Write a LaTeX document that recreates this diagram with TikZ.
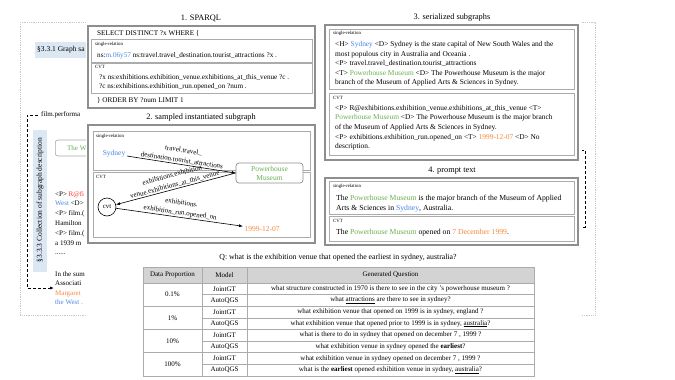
\documentclass[tikz,border=0pt]{standalone}
\usepackage{fontspec}
\setmainfont{Liberation Serif}
\usepackage{tikz}
\usetikzlibrary{positioning,arrows.meta}
\definecolor{entblue}{HTML}{4A86E8}
\definecolor{entgreen}{HTML}{6AAF4F}
\definecolor{entorange}{HTML}{F5883C}
\definecolor{entred}{HTML}{FF3434}
\definecolor{bandblue}{HTML}{DCE7F4}
\definecolor{boxgray}{HTML}{8E8E8E}
\definecolor{linegray}{HTML}{ABABAB}
\definecolor{headgray}{HTML}{D3D3D3}
\definecolor{dotgray}{HTML}{C8C8C8}
\newcommand{\setfs}[2]{\fontsize{#1}{#2}\selectfont}

\begin{document}
\begin{tikzpicture}[x=1pt, y=-1pt,
    outerbox/.style={draw=boxgray, line width=1.1pt},
    innerbox/.style={draw=linegray, line width=0.7pt},
    title/.style={inner sep=0pt, font=\setfs{8.3}{10}},
    tag/.style={anchor=west, inner sep=0pt, font=\setfs{4.8}{5}},
    txt/.style={anchor=north west, inner sep=0pt, align=left, font=\setfs{7.4}{9.6}},
    ptxt/.style={anchor=north west, inner sep=0pt, align=left, font=\setfs{7.7}{10}},
    qtxt/.style={anchor=west, inner sep=0pt, font=\setfs{7.2}{8}},
    bgtxt/.style={anchor=west, inner sep=0pt, align=left, font=\setfs{7}{9.8}},
    ent/.style={inner sep=1.5pt, align=center, font=\setfs{7.5}{9}},
    lbl/.style={inner sep=0.8pt, align=center, font=\setfs{7}{10}},
    arr/.style={-{Latex[length=4pt,width=3pt]}, line width=0.6pt},
    rarr/.style={{Latex[length=4pt,width=3pt]}-, line width=0.6pt},
    dasharr/.style={-{Latex[length=4pt,width=3pt]}, densely dashed, line width=0.7pt},
    cell/.style={inner sep=0pt, font=\setfs{7}{8}},
    tabline/.style={draw=linegray, line width=0.6pt}
]
    \useasboundingbox (0,0) rectangle (675,380);

    % background figure
    \draw[dotgray, densely dotted, line width=0.8pt] (20,22) rectangle (595,315);
    \fill[bandblue] (35,42) rectangle (100,58);
    \node[bgtxt, font=\setfs{7.5}{9}] (graphsa) at (37,50) {§3.3.1 Graph sa};
    \node[bgtxt] (filmperf) at (41,115) {film.performa};
    \coordinate (turn) at (27,115);
    \fill[bandblue] (33,130) rectangle (47,272);
    \node[rotate=90, inner sep=0pt, font=\setfs{7.5}{9}] (collect) at (40,200) {§3.3.3 Collection of subgraph description};
    \node[draw=linegray, line width=0.7pt, rounded corners=2.5pt, minimum width=75pt, minimum height=16pt, anchor=west] (thew) at (55,148) {};
    \node[bgtxt, text=entgreen] (thewtxt) at (67,148) {The W};
    \node[bgtxt, anchor=north west] (descr) at (55,191) {<P> \textcolor{entred}{R@fi}\\\textcolor{entblue}{West} <D>\\<P> film.(\\Hamilton\\<P> film.(\\a 1939 m\\......};
    \node[bgtxt, font=\setfs{7}{9.4}] (insum) at (55,288) {In the sum\\Associati\\\textcolor{entorange}{Margaret}\\\textcolor{entblue}{the West .}};
    \draw[dasharr, shorten <=3pt, shorten >=1pt] (filmperf.west) -- (turn) |- (insum.west);
    \draw[densely dashed, line width=0.7pt] (581,150) -- (585,150) -- (585,227) -- (581,227);
    \fill[white] (86,0) rectangle (582,380);

    % 1. SPARQL
    \node[title] (t1) at (201,18) {1. SPARQL};
    \draw[outerbox] (88,26) rectangle (315,108);
    \node[qtxt] (sel) at (97,33) {SELECT DISTINCT ?x WHERE \{};
    \draw[innerbox] (91,39) rectangle (312,62);
    \node[tag] (tg1) at (95,44) {single-relation};
    \node[qtxt] (q1) at (97,56) {ns:\textcolor{entblue}{m.06y57} ns:travel.travel\_destination.tourist\_attractions ?x .};
    \draw[innerbox] (91,63) rectangle (312,93);
    \node[tag] (tg2) at (95,67) {CVT};
    \node[qtxt] (q2) at (99,77) {?x ns:exhibitions.exhibition\_venue.exhibitions\_at\_this\_venue ?c .};
    \node[qtxt] (q3) at (99,87) {?c ns:exhibitions.exhibition\_run.opened\_on ?num .};
    \node[qtxt] (ord) at (97,100) {\} ORDER BY ?num LIMIT 1};

    % 2. sampled instantiated subgraph
    \node[title] (t2) at (201,118) {2. sampled instantiated subgraph};
    \draw[outerbox] (88,125) rectangle (315,243);
    \draw[innerbox] (93,131) rectangle (310,170);
    \draw[innerbox] (93,172) rectangle (310,237);
    \node[tag] (tg3) at (96,136) {single-relation};
    \node[tag] (tg4) at (96,177) {CVT};
    \node[ent, text=entblue] (sydney) at (114,154) {Sydney};
    \node[ent, text=entgreen, draw=boxgray, line width=0.7pt, fill=white, rounded corners=3pt, minimum width=67pt, minimum height=20pt] (pm) at (269.5,173) {Powerhouse\\Museum};
    \node[ent, draw, circle, line width=0.6pt, minimum size=18pt, inner sep=0pt, font=\setfs{6.8}{8}] (cvt) at (107,207) {cvt};
    \node[ent, text=entorange, anchor=west] (date) at (243,229) {1999-12-07};
    \draw[arr] (sydney) -- (pm.west) node[midway, above, sloped, lbl] {travel.travel\_\\destination.tourist\_attractions};
    \draw[rarr] (cvt) -- (pm.west) node[midway, above, sloped, lbl] {exhibitions.exhibition\\venue.exhibitions\_at\_this\_venue};
    \draw[arr] (cvt) -- (date) node[midway, above, sloped, lbl] {exhibitions.\\exhibition\_run.opened\_on};

    % 3. serialized subgraphs
    \node[title] (t3) at (452,18) {3. serialized subgraphs};
    \draw[outerbox] (325,25) rectangle (578,160);
    \draw[innerbox] (329,29) rectangle (574,89);
    \draw[innerbox] (329,93) rectangle (574,155);
    \node[tag] (tg5) at (333,33) {single-relation};
    \node[txt] (ser1) at (335,41) {<H> \textcolor{entblue}{Sydney} <D> Sydney is the state capital of New South Wales and the\\most populous city in Australia and Oceania .\\<P> travel.travel\_destination.tourist\_attractions\\<T> \textcolor{entgreen}{Powerhouse Museum} <D> The Powerhouse Museum is the major\\branch of the Museum of Applied Arts \& Sciences in Sydney.};
    \node[tag] (tg6) at (333,98) {CVT};
    \node[txt] (ser2) at (335,105) {<P> R@exhibitions.exhibition\_venue.exhibitions\_at\_this\_venue <T>\\\textcolor{entgreen}{Powerhouse Museum} <D> The Powerhouse Museum is the major branch\\of the Museum of Applied Arts \& Sciences in Sydney.\\<P> exhibitions.exhibition\_run.opened\_on <T> \textcolor{entorange}{1999-12-07} <D> No\\description.};

    % 4. prompt text
    \node[title] (t4) at (452,171) {4. prompt text};
    \draw[outerbox] (325,178) rectangle (578,245);
    \draw[innerbox] (329,181) rectangle (574,214);
    \draw[innerbox] (329,216) rectangle (574,241);
    \node[tag] (tg7) at (333,186) {single-relation};
    \node[ptxt] (pr1) at (336,195) {The \textcolor{entgreen}{Powerhouse Museum} is the major branch of the Museum of Applied\\Arts \& Sciences in \textcolor{entblue}{Sydney}, Australia.};
    \node[tag] (tg8) at (333,221) {CVT};
    \node[ptxt, anchor=west] (pr2) at (336,233) {The \textcolor{entgreen}{Powerhouse Museum} opened on \textcolor{entorange}{7 December 1999}.};

    % question and table
    \node[inner sep=0pt, font=\setfs{7.8}{9}] (quest) at (338,258) {Q: what is the exhibition venue that opened the earliest in sydney, australia?};
    \fill[headgray] (143,267) rectangle (534,283);
    \draw[tabline] (143,267) rectangle (534,376);
    \draw[tabline] (202,267) -- (202,376);
    \draw[tabline] (247,267) -- (247,376);
    \foreach \y in {283,306.25,329.5,352.75}
        \draw[tabline] (143,\y) -- (534,\y);
    \foreach \y in {294.6,317.9,341.1,364.4}
        \draw[tabline] (202,\y) -- (534,\y);
    \node[cell] (hdp) at (172.5,275) {Data Proportion};
    \node[cell] (hmod) at (224.5,275) {Model};
    \node[cell] (hgen) at (390.5,275) {Generated Question};
    \node[cell] (p1) at (172.5,294.6) {0.1\%};
    \node[cell] (p2) at (172.5,317.9) {1\%};
    \node[cell] (p3) at (172.5,341.1) {10\%};
    \node[cell] (p4) at (172.5,364.4) {100\%};
    \node[cell] (m1a) at (224.5,288.8) {JointGT};
    \node[cell] (m1b) at (224.5,300.4) {AutoQGS};
    \node[cell] (m2a) at (224.5,312.1) {JointGT};
    \node[cell] (m2b) at (224.5,323.7) {AutoQGS};
    \node[cell] (m3a) at (224.5,335.3) {JointGT};
    \node[cell] (m3b) at (224.5,346.9) {AutoQGS};
    \node[cell] (m4a) at (224.5,358.6) {JointGT};
    \node[cell] (m4b) at (224.5,370.2) {AutoQGS};
    \node[cell] (g1a) at (390.5,288.8) {what structure constructed in 1970 is there to see in the city 's powerhouse museum ?};
    \node[cell] (g1b) at (390.5,300.4) {what \underline{attractions} are there to see in sydney?};
    \node[cell] (g2a) at (390.5,312.1) {what exhibition venue that opened on 1999 is in sydney, england ?};
    \node[cell] (g2b) at (390.5,323.7) {what exhibition venue that opened prior to 1999 is in sydney, \underline{australia}?};
    \node[cell] (g3a) at (390.5,335.3) {what is there to do in sydney that opened on december 7 , 1999 ?};
    \node[cell] (g3b) at (390.5,346.9) {what exhibition venue in sydney opened the \textbf{earliest}?};
    \node[cell] (g4a) at (390.5,358.6) {what exhibition venue in sydney opened on december 7 , 1999 ?};
    \node[cell] (g4b) at (390.5,370.2) {what is the \textbf{earliest} opened exhibition venue in sydney, \underline{australia}?};
\end{tikzpicture}
\end{document}
